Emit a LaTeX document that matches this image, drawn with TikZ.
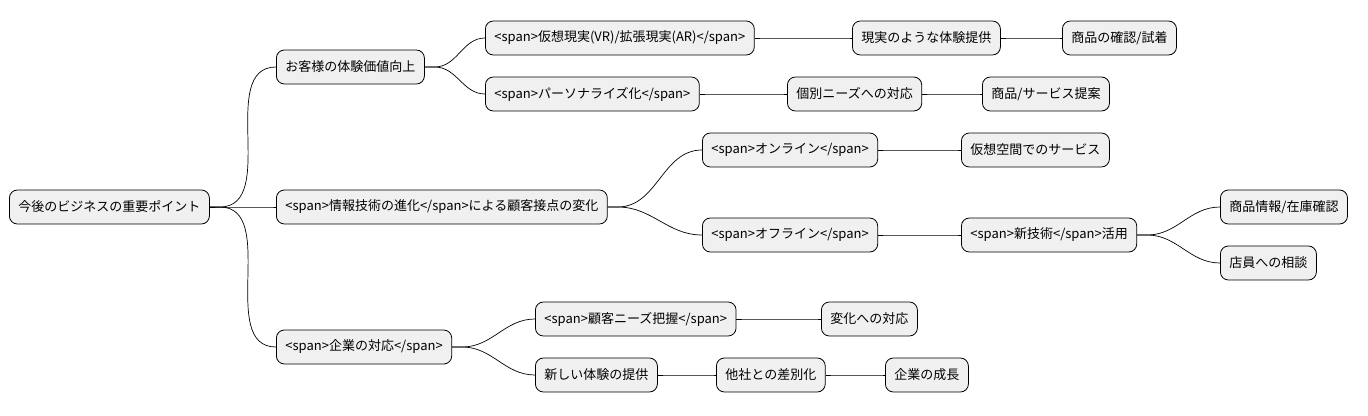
\documentclass[tikz,border=0pt]{standalone}
\usepackage{fontspec}
\setmainfont{Noto Sans CJK JP}
\tikzset{
  topic/.style={draw=black, line width=0.8pt, fill=black!6, rounded corners=8pt,
    anchor=west, minimum height=34pt, inner xsep=9pt, font=\fontsize{13}{15}\selectfont},
  branch/.style={line width=0.7pt},
}
\begin{document}
\begin{tikzpicture}[x=1pt,y=1pt]
    \useasboundingbox (0,0) rectangle (1368,-415);
    \node[topic] (root) at (9,-207)   {今後のビジネスの重要ポイント};
    \node[topic] (A)    at (276,-67)  {お客様の体験価値向上};
    \node[topic] (A1)   at (485,-38)  {<span>仮想現実(VR)/拡張現実(AR)</span>};
    \node[topic] (A1a)  at (852,-38)  {現実のような体験提供};
    \node[topic] (A1b)  at (1062,-38) {商品の確認/試着};
    \node[topic] (A2)   at (485,-94)  {<span>パーソナライズ化</span>};
    \node[topic] (A2a)  at (787,-94)  {個別ニーズへの対応};
    \node[topic] (A2b)  at (982,-94)  {商品/サービス提案};
    \node[topic] (B)    at (276,-207) {<span>情報技術の進化</span>による顧客接点の変化};
    \node[topic] (B1)   at (702,-150) {<span>オンライン</span>};
    \node[topic] (B1a)  at (961,-150) {仮想空間でのサービス};
    \node[topic] (B2)   at (702,-235) {<span>オフライン</span>};
    \node[topic] (B2a)  at (961,-235) {<span>新技術</span>活用};
    \node[topic] (B2a1) at (1220,-207){商品情報/在庫確認};
    \node[topic] (B2a2) at (1220,-263){店員への相談};
    \node[topic] (C)    at (276,-347) {<span>企業の対応</span>};
    \node[topic] (C1)   at (535,-319) {<span>顧客ニーズ把握</span>};
    \node[topic] (C1a)  at (821,-319) {変化への対応};
    \node[topic] (C2)   at (535,-375) {新しい体験の提供};
    \node[topic] (C2a)  at (716,-375) {他社との差別化};
    \node[topic] (C2b)  at (885,-375) {企業の成長};
    % branches
    \foreach \p/\c in {root/A, root/B, root/C, A/A1, A/A2, A1/A1a, A1a/A1b,
        A2/A2a, A2a/A2b, B/B1, B/B2, B1/B1a, B2/B2a, B2a/B2a1, B2a/B2a2,
        C/C1, C/C2, C1/C1a, C2/C2a, C2a/C2b}
      \draw[branch] (\p.east) -- ++(10,0) to[out=0,in=180] (\c.west);
\end{tikzpicture}
\end{document}
